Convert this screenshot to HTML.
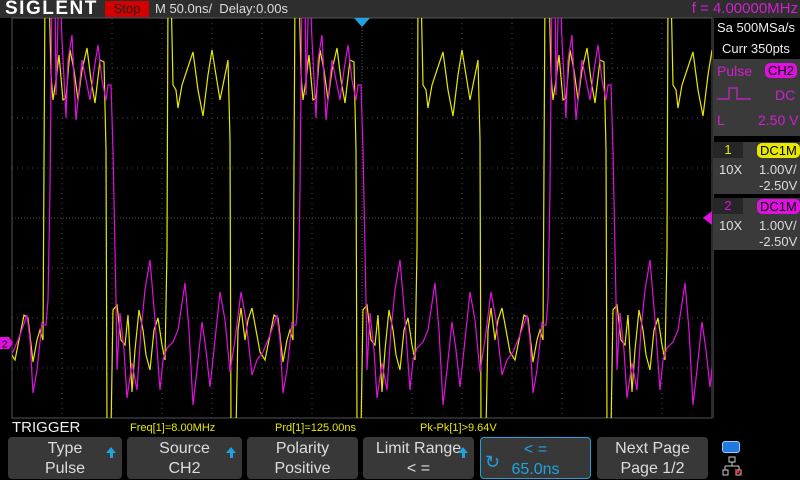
<!DOCTYPE html>
<html><head><meta charset="utf-8"><style>
body{margin:0;width:800px;height:480px;background:#000;overflow:hidden;font-family:"Liberation Sans",sans-serif;position:relative}
.abs{position:absolute}
.btn{position:absolute;top:437px;height:42px;background:#383838;border-radius:4px;color:#ddd;font-size:16px;text-align:center;line-height:20px;box-sizing:border-box;padding-top:2px}
.arr{position:absolute;right:6px;top:10px;width:0;height:0;border-left:5px solid transparent;border-right:5px solid transparent;border-bottom:6px solid #1fa3e0}
.arr:after{content:"";position:absolute;left:-1.5px;top:6px;width:3px;height:5px;background:#1fa3e0}
</style></head><body>
<div class="abs" style="left:0;top:0;width:800px;height:18px;background:#2e2e2e"></div>
<div class="abs" style="left:5px;top:-2px;color:#fff;font-weight:bold;font-size:19px;letter-spacing:1.5px">SIGLENT</div>
<div class="abs" style="left:105px;top:1px;width:44px;height:16px;background:#d40000;color:#222;font-size:13px;text-align:center;line-height:16px">Stop</div>
<div class="abs" style="left:155px;top:1px;color:#ddd;font-size:13px;white-space:pre">M 50.0ns/  Delay:0.00s</div>
<div class="abs" style="right:2px;top:0px;color:#d020d0;font-size:15px">f = 4.00000MHz</div>

<svg class="abs" style="left:0;top:0" width="800" height="480">
<defs><clipPath id="pc"><rect x="12" y="18" width="700" height="400"/></clipPath></defs>
<rect x="12" y="18" width="700" height="400" fill="#000"/>
<g id="grid"></g>
<rect x="12" y="18" width="700" height="400" fill="none" stroke="#555" stroke-width="1"/>
<g clip-path="url(#pc)"><polyline id="ch1" fill="none" stroke="#e8e800" stroke-width="1.2"/>
<polyline id="ch2" fill="none" stroke="#e010e0" stroke-width="1.2"/></g>
<polygon points="354,18 370,18 362,27" fill="#1fa3e0"/>
<polygon points="0,337 9,337 13,343 9,349 0,349" fill="#e010e0"/>
<text x="2" y="347.5" font-size="10" fill="#000" font-family="Liberation Sans">2</text>
<polygon points="712,211 712,225 703,218" fill="#e010e0"/>
</svg>

<div class="abs" style="left:713px;top:18px;width:87px;height:400px;background:#000;border-left:1px solid #333"></div>
<div class="abs" style="left:717px;top:20px;color:#eee;font-size:13px">Sa 500MSa/s</div>
<div class="abs" style="left:722px;top:41px;color:#eee;font-size:13px">Curr 350pts</div>
<div class="abs" style="left:713px;top:59px;width:87px;height:77px;background:#3a3a3a;color:#d020d0;font-size:14px">
 <div class="abs" style="left:4px;top:4px">Pulse</div>
 <div class="abs" style="left:52px;top:4px;background:#e010e0;color:#000;border-radius:5px;padding:0 3px;font-size:13px">CH2</div>
 <svg class="abs" style="left:4px;top:26px" width="34" height="16"><polyline points="0,14 12,14 12,3 20,3 20,14 34,14" fill="none" stroke="#d020d0" stroke-width="1.2"/></svg>
 <div class="abs" style="left:62px;top:28px">DC</div>
 <div class="abs" style="left:4px;top:53px">L</div>
 <div class="abs" style="left:45px;top:53px">2.50 V</div>
</div>
<div class="abs" style="left:713px;top:142px;width:87px;height:52px;background:#3a3a3a;color:#ddd;font-size:13px">
 <div class="abs" style="left:0;top:0;width:30px;height:16px;background:#262626;color:#e8e800;text-align:center">1</div>
 <div class="abs" style="left:44px;top:1px;background:#e8e800;color:#000;border-radius:5px;padding:0 3px">DC1M</div>
 <div class="abs" style="left:6px;top:20px">10X</div>
 <div class="abs" style="left:46px;top:20px">1.00V/</div>
 <div class="abs" style="left:46px;top:36px">-2.50V</div>
</div>
<div class="abs" style="left:713px;top:198px;width:87px;height:52px;background:#3a3a3a;color:#ddd;font-size:13px">
 <div class="abs" style="left:0;top:0;width:30px;height:16px;background:#262626;color:#e010e0;text-align:center">2</div>
 <div class="abs" style="left:44px;top:1px;background:#e010e0;color:#000;border-radius:5px;padding:0 3px">DC1M</div>
 <div class="abs" style="left:6px;top:20px">10X</div>
 <div class="abs" style="left:46px;top:20px">1.00V/</div>
 <div class="abs" style="left:46px;top:36px">-2.50V</div>
</div>

<div class="abs" style="left:12px;top:419px;color:#eee;font-size:15px">TRIGGER</div>
<div class="abs" style="left:130px;top:422px;color:#e8e800;font-size:11px">Freq[1]=8.00MHz</div>
<div class="abs" style="left:275px;top:422px;color:#e8e800;font-size:11px">Prd[1]=125.00ns</div>
<div class="abs" style="left:420px;top:422px;color:#e8e800;font-size:11px">Pk-Pk[1]&gt;9.64V</div>

<div class="btn" style="left:8px;width:114px">Type<br>Pulse<div class="arr"></div></div>
<div class="btn" style="left:127px;width:115px">Source<br>CH2<div class="arr"></div></div>
<div class="btn" style="left:247px;width:111px">Polarity<br>Positive</div>
<div class="btn" style="left:363px;width:111px">Limit Range<br>&lt; =<div class="arr"></div></div>
<div class="btn" style="left:480px;width:111px;border:1px solid #1fa3e0;color:#1fa3e0">&lt; =<br>65.0ns<div class="abs" style="left:4px;top:14px;font-size:18px">&#x21BB;</div></div>
<div class="btn" style="left:597px;width:111px">Next Page<br>Page 1/2</div>
<div class="abs" style="left:722px;top:441px;width:16px;height:10px;background:#1f7ae0;border-radius:3px;border:1px solid #9cf"></div>
<svg class="abs" style="left:722px;top:456px" width="20" height="20"><path d="M7 1h6v5H7z M10 6v4 M3 10h14 M3 10v4 M17 10v4 M1 14h5v5H1z M14 14h5v5h-5z" fill="none" stroke="#ccc"/><path d="M13 13l6 6M19 13l-6 6" stroke="#e22"/></svg>

<script>
// CH1 one-period samples: time (ns from period start) and volts
const ch1T=[0,2,6,8,10,13,16,20,23,27,31,35,39,44,48,52,57,61,63,64,68,70,74,78,82,85,89,92,96,100,103,107,111,115,119,122,124,125,128,130,133,135,139,144,150,155,160,165,169,173,177,181,185,187,188,193,195,198,202,205,209,213,217,222,227,231,235,240,244,247];
const ch1V=[0.06,7.06,7.06,5.36,4.86,5.26,5.76,4.86,4.90,5.86,5.46,4.86,5.46,5.90,5.26,4.80,5.66,5.62,3.86,-1.74,-1.74,0.66,0.76,0.06,-0.04,0.56,-0.98,-0.14,0.66,0.26,-0.24,-0.54,0.26,0.50,-0.04,-0.34,1.86,7.06,7.06,5.16,5.06,4.70,5.16,5.46,5.82,5.06,4.54,5.36,5.86,5.36,4.86,5.26,5.66,4.06,-1.74,-1.74,0.26,0.70,0.06,0.46,0.70,0.26,-0.18,-0.34,0.16,0.56,0.50,-0.38,0.06,0.26];
// CH2 one-period samples
const ch2T=[0,3,5,7,9,12,13,15,17,19,23,25,29,33,36,39,43,47,51,55,59,63,65,68,70,72,73,74,77,81,84,89,94,98,102,107,112,117,120,124,130,135,142,146,150,154,159,163,167,172,177,182,187,192,198,203,209,214,220,227,234,237,240,244,249];
const ch2V=[0.36,0.36,0.86,3.06,7.06,7.06,4.96,6.46,7.06,6.06,4.50,5.66,6.16,4.46,5.06,5.66,5.26,4.86,5.46,5.96,5.26,4.86,5.16,5.16,3.86,1.86,0.86,-0.54,0.60,-0.14,-1.10,-0.40,-0.94,0.26,1.06,1.66,0.46,-0.94,-0.34,-0.10,0.02,0.26,1.20,0.26,-1.24,-0.54,0.42,-0.14,-0.88,0.06,1.02,0.46,-0.58,0.06,1.02,0.46,-0.64,-0.34,-0.18,0.16,0.56,0.06,-1.00,-0.54,0.40];
const periodNs=[250];
const firstEdgeNs=[31]; // ns after screen left edge
const screenStartNs=[0];

const X0=12,PXNS=1,Y0V=343,PXV=50;
function xs(t){return X0+(t-screenStartNs[0])*PXNS;}
function ys(v){return Y0V-v*PXV;}
function trace(id,T,V){
  const pts=[];
  for(let k=-1;k<=3;k++){
    const off=firstEdgeNs[0]+k*periodNs[0];
    for(let i=0;i<T.length;i++)pts.push(xs(T[i]+off).toFixed(1)+','+ys(V[i]).toFixed(1));
  }
  document.getElementById(id).setAttribute('points',pts.join(' '));
}
trace('ch1',ch1T,ch1V);
trace('ch2',ch2T,ch2V);

const g=document.getElementById('grid');
const NS='http://www.w3.org/2000/svg';
for(let i=1;i<14;i++){
  const l=document.createElementNS(NS,'line');
  
  
  const x=12+i*50;
  l.setAttribute('x1',x);l.setAttribute('x2',x);l.setAttribute('y1',18);l.setAttribute('y2',418);
  l.setAttribute('stroke','#4a4a4a');l.setAttribute('stroke-dasharray',i==7?'1,2':'1,4');
  g.appendChild(l);
}
for(let j=1;j<8;j++){
  const l=document.createElementNS(NS,'line');
  
  
  const y=18+j*50;
  l.setAttribute('x1',12);l.setAttribute('x2',712);l.setAttribute('y1',y);l.setAttribute('y2',y);
  l.setAttribute('stroke','#4a4a4a');l.setAttribute('stroke-dasharray',j==4?'1,2':'1,4');
  g.appendChild(l);
}
</script>
</body></html>
